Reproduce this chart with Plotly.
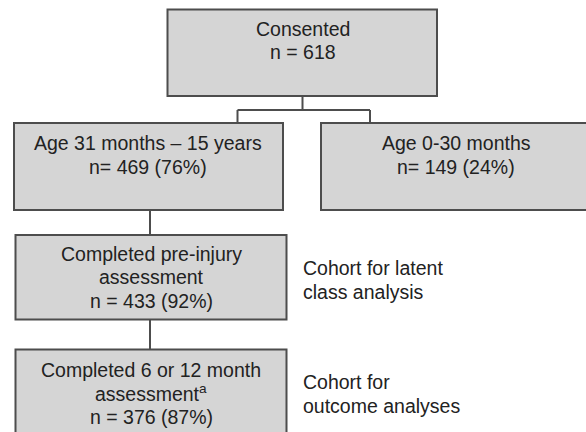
import plotly.graph_objects as go

# ---- data ----
node_titles = [
    ["Consented"],
    ["Age 31 months \u2013 15 years"],
    ["Age 0-30 months"],
    ["Completed pre-injury", "assessment"],
    ["Completed 6 or 12 month", "assessment<sup>a</sup>"],
]
node_n = [618, 469, 149, 433, 376]
node_pct = [None, 76, 24, 92, 87]
n_prefix = ["n = ", "n= ", "n= ", "n = ", "n = "]
side_labels = [
    ["Cohort for latent", "class analysis"],
    ["Cohort for", "outcome analyses"],
]

# ---- layout geometry (pixels, y downward) ----
boxes = [  # x0, y0, x1, y1, text-center-x, first-line-y
    (167.5, 9.5, 437, 96, 302.5, 28.5),
    (14, 123, 283, 210, 148, 143),
    (321, 123, 600, 210, 456, 143),
    (15.5, 235, 286.5, 319.5, 151, 253.5),
    (15.5, 349.5, 286.5, 445, 151, 369.5),
]
side_pos = [(301, 268), (301, 382)]
line_gap = 23.7

FILL = "#d5d5d5"
EDGE = "#4d4d4d"
TXT = "#222222"
FONT = "Arial, Liberation Sans, sans-serif"
FS = 19.5

fig = go.Figure()
shapes = []
annotations = []

for (x0, y0, x1, y1, cx, ty), title, n, pct, pre in zip(
        boxes, node_titles, node_n, node_pct, n_prefix):
    shapes.append(dict(type="rect", xref="x", yref="y", x0=x0, y0=y0, x1=x1, y1=y1,
                       fillcolor=FILL, line=dict(color=EDGE, width=2), layer="below"))
    lines = list(title)
    lines.append(pre + str(n) + ("" if pct is None else " (%d%%)" % pct))
    for i, t in enumerate(lines):
        annotations.append(dict(x=cx, y=ty + i * line_gap, xref="x", yref="y", text=t,
                                showarrow=False, xanchor="center", yanchor="middle",
                                font=dict(family=FONT, size=FS, color=TXT)))

for (sx, sy), lab in zip(side_pos, side_labels):
    for i, t in enumerate(lab):
        annotations.append(dict(x=sx, y=sy + i * line_gap, xref="x", yref="y", text=t,
                                showarrow=False, xanchor="left", yanchor="middle",
                                font=dict(family=FONT, size=FS, color=TXT)))

# connectors
conn = [
    (302.5, 96, 302.5, 110),
    (237.5, 110, 370, 110),
    (237.5, 110, 237.5, 123),
    (370, 110, 370, 123),
    (150, 210, 150, 235),
    (150, 319.5, 150, 349.5),
]
for x0, y0, x1, y1 in conn:
    shapes.append(dict(type="line", xref="x", yref="y", x0=x0, y0=y0, x1=x1, y1=y1,
                       line=dict(color=EDGE, width=2)))

fig.update_layout(
    width=586, height=432,
    margin=dict(l=0, r=0, t=0, b=0),
    paper_bgcolor="white", plot_bgcolor="white",
    xaxis=dict(range=[0, 586], visible=False, fixedrange=True),
    yaxis=dict(range=[432, 0], visible=False, fixedrange=True),
    shapes=shapes, annotations=annotations, showlegend=False,
)
fig.write_html("out.html", config={"displayModeBar": False},
               post_script="document.body.style.margin='0';document.body.style.overflow='hidden';")
